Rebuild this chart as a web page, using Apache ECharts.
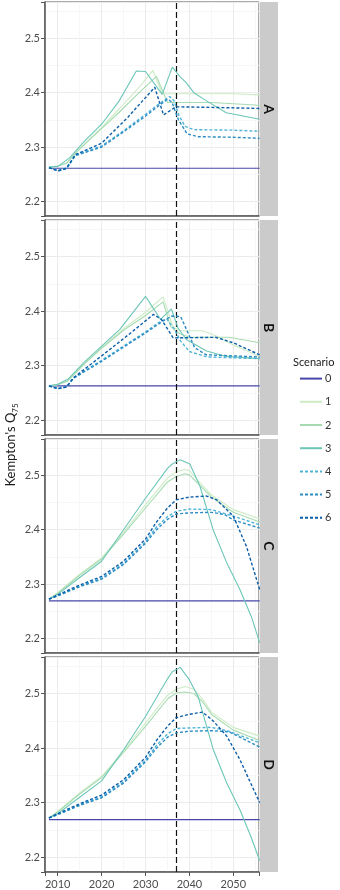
<!DOCTYPE html>
<html>
<head>
<meta charset="utf-8">
<script src="https://cdn.jsdelivr.net/npm/echarts@6/dist/echarts.min.js"></script>
<style>
    html, body { margin: 0; padding: 0; background: #ffffff; }
    #chart { width: 340px; height: 890px; }
</style>
</head>
<body>
<div id="chart"></div>
<script>
// facets and scenarios
var panels = ['A', 'B', 'C', 'D'];
var scenarios = ['0', '1', '2', '3', '4', '5', '6'];
var xTicks = [2010, 2020, 2030, 2040, 2050];
var yTicks = [2.2, 2.3, 2.4, 2.5];
var cutYear = 2037;

// panel A  [year, Q75]
var a0 = [[2008, 2.261], [2056, 2.261]];
var a1 = [[2008, 2.263], [2010, 2.265], [2012, 2.27], [2013.5, 2.284], [2016, 2.305], [2020, 2.336], [2024, 2.37], [2028, 2.405], [2031.7, 2.441], [2033.8, 2.398], [2040, 2.398], [2050, 2.398], [2056, 2.396]];
var a2 = [[2008, 2.263], [2010, 2.265], [2012, 2.27], [2013.5, 2.284], [2016, 2.304], [2020, 2.334], [2024, 2.364], [2028, 2.396], [2032.5, 2.43], [2035, 2.382], [2045, 2.382], [2056, 2.377]];
var a3 = [[2008, 2.263], [2010, 2.264], [2012.8, 2.281], [2016, 2.31], [2020, 2.342], [2024, 2.385], [2027.9, 2.44], [2030, 2.439], [2033.8, 2.397], [2036.1, 2.447], [2037.8, 2.43], [2039.3, 2.418], [2041, 2.4], [2043.9, 2.385], [2048.4, 2.363], [2056, 2.351]];
var a4 = [[2008, 2.262], [2010, 2.257], [2012, 2.261], [2014, 2.285], [2020, 2.302], [2025, 2.33], [2030, 2.36], [2033, 2.379], [2035.5, 2.393], [2036.5, 2.385], [2037.5, 2.36], [2039, 2.338], [2041, 2.332], [2050, 2.331], [2056, 2.329]];
var a5 = [[2008, 2.262], [2010, 2.256], [2012, 2.26], [2014, 2.284], [2020, 2.3], [2025, 2.328], [2030, 2.357], [2033, 2.376], [2035, 2.388], [2036, 2.383], [2037.5, 2.35], [2039.5, 2.324], [2042, 2.319], [2050, 2.318], [2056, 2.316]];
var a6 = [[2008, 2.262], [2010, 2.256], [2012, 2.261], [2014, 2.286], [2020, 2.307], [2026, 2.355], [2032.1, 2.41], [2034.1, 2.359], [2036.9, 2.374], [2045, 2.373], [2056, 2.371]];

// panel B
var b0 = [[2008, 2.263], [2056, 2.263]];
var b1 = [[2008, 2.263], [2010, 2.265], [2012.3, 2.272], [2016, 2.303], [2020, 2.333], [2025, 2.368], [2030, 2.398], [2034, 2.426], [2036.3, 2.37], [2038, 2.364], [2043, 2.364], [2046, 2.355], [2050, 2.338], [2056, 2.317]];
var b2 = [[2008, 2.263], [2010, 2.265], [2012.3, 2.272], [2016, 2.303], [2020, 2.332], [2025, 2.365], [2030, 2.392], [2034, 2.417], [2035.7, 2.372], [2037.5, 2.36], [2040, 2.352], [2049, 2.352], [2056, 2.342]];
var b3 = [[2008, 2.263], [2010, 2.266], [2012.3, 2.275], [2016, 2.306], [2020, 2.336], [2024.1, 2.366], [2030, 2.427], [2033.4, 2.385], [2035.9, 2.404], [2037.4, 2.369], [2039.3, 2.348], [2043.9, 2.327], [2048.4, 2.317], [2056, 2.313]];
var b4 = [[2008, 2.263], [2010, 2.258], [2012, 2.261], [2013.6, 2.278], [2020, 2.31], [2025, 2.336], [2030, 2.362], [2033, 2.379], [2034.8, 2.386], [2036.5, 2.368], [2038, 2.345], [2040, 2.326], [2044, 2.316], [2056, 2.313]];
var b5 = [[2008, 2.263], [2010, 2.258], [2012, 2.261], [2013.6, 2.277], [2020, 2.308], [2025, 2.334], [2030, 2.36], [2034, 2.382], [2036, 2.391], [2038, 2.39], [2041.2, 2.333], [2043.8, 2.32], [2056, 2.316]];
var b6 = [[2008, 2.263], [2010, 2.258], [2012, 2.261], [2013.6, 2.278], [2020, 2.318], [2026, 2.356], [2031.8, 2.394], [2033.6, 2.385], [2036.3, 2.351], [2046, 2.352], [2050, 2.342], [2056, 2.32]];

// panel C
var c0 = [[2008, 2.269], [2056, 2.269]];
var c1 = [[2008, 2.272], [2010, 2.284], [2015, 2.318], [2020, 2.348], [2025, 2.395], [2030, 2.446], [2035, 2.495], [2037, 2.507], [2039, 2.511], [2040, 2.509], [2042, 2.49], [2045, 2.464], [2050, 2.437], [2056, 2.42]];
var c2 = [[2008, 2.272], [2010, 2.283], [2015, 2.316], [2020, 2.346], [2025, 2.392], [2030, 2.44], [2035, 2.488], [2037, 2.498], [2039, 2.503], [2040, 2.501], [2042, 2.485], [2045, 2.46], [2050, 2.432], [2056, 2.414]];
var c3 = [[2008, 2.272], [2010, 2.281], [2015, 2.312], [2020, 2.342], [2025, 2.4], [2030, 2.458], [2035, 2.513], [2036.1, 2.521], [2037.9, 2.529], [2040.1, 2.521], [2042.4, 2.48], [2045.4, 2.4], [2048.5, 2.339], [2051.5, 2.29], [2054.2, 2.238], [2056, 2.192]];
var c4 = [[2008, 2.272], [2010, 2.279], [2015, 2.296], [2020, 2.311], [2025, 2.338], [2030, 2.378], [2032.5, 2.405], [2035, 2.424], [2037, 2.434], [2040, 2.438], [2045, 2.437], [2050, 2.425], [2056, 2.409]];
var c5 = [[2008, 2.272], [2010, 2.278], [2015, 2.295], [2020, 2.309], [2025, 2.336], [2030, 2.375], [2032.5, 2.4], [2035, 2.419], [2037, 2.429], [2040, 2.431], [2045, 2.432], [2048, 2.428], [2050, 2.418], [2056, 2.403]];
var c6 = [[2008, 2.272], [2010, 2.28], [2015, 2.298], [2020, 2.314], [2025, 2.342], [2030, 2.383], [2032.5, 2.414], [2035, 2.44], [2037, 2.455], [2040, 2.46], [2043.9, 2.462], [2046.2, 2.455], [2050, 2.425], [2053, 2.369], [2056, 2.29]];

// panel D
var d0 = [[2008, 2.269], [2056, 2.269]];
var d1 = [[2008, 2.272], [2010, 2.284], [2015, 2.318], [2020, 2.348], [2025, 2.395], [2030, 2.446], [2035, 2.497], [2037, 2.508], [2039, 2.513], [2041, 2.508], [2043, 2.49], [2045, 2.466], [2050, 2.438], [2056, 2.422]];
var d2 = [[2008, 2.272], [2010, 2.283], [2015, 2.316], [2020, 2.346], [2025, 2.392], [2030, 2.44], [2035, 2.49], [2037, 2.501], [2039, 2.503], [2041, 2.5], [2043, 2.485], [2045, 2.462], [2050, 2.433], [2056, 2.414]];
var d3 = [[2008, 2.272], [2010, 2.28], [2015, 2.31], [2020, 2.34], [2025, 2.397], [2030, 2.458], [2035, 2.527], [2036.1, 2.54], [2037.9, 2.548], [2040, 2.525], [2042, 2.494], [2045.4, 2.398], [2048.5, 2.336], [2051.5, 2.287], [2054, 2.238], [2056, 2.194]];
var d4 = [[2008, 2.272], [2010, 2.279], [2015, 2.296], [2020, 2.311], [2025, 2.338], [2030, 2.378], [2032.5, 2.405], [2035, 2.426], [2037, 2.436], [2040, 2.437], [2045, 2.438], [2049, 2.431], [2056, 2.41]];
var d5 = [[2008, 2.272], [2010, 2.278], [2015, 2.295], [2020, 2.309], [2025, 2.336], [2030, 2.375], [2032.5, 2.4], [2035, 2.42], [2037, 2.428], [2040, 2.431], [2045, 2.432], [2049, 2.43], [2056, 2.402]];
var d6 = [[2008, 2.272], [2010, 2.28], [2015, 2.298], [2020, 2.314], [2025, 2.342], [2030, 2.383], [2032.5, 2.414], [2035, 2.44], [2037, 2.456], [2040, 2.462], [2043, 2.466], [2045.4, 2.45], [2048.5, 2.422], [2051.5, 2.379], [2056, 2.3]];

var panelData = [
    [a0, a1, a2, a3, a4, a5, a6],
    [b0, b1, b2, b3, b4, b5, b6],
    [c0, c1, c2, c3, c4, c5, c6],
    [d0, d1, d2, d3, d4, d5, d6]
];

var colors = ['#4646aa', '#cdebc4', '#a6dbb2', '#6cc6b8', '#4fb4d6', '#2b8cc4', '#0b5ea8'];
var dash = [3, 2];
var font = 'Lato';

// layout of the facet panels
var gridLeft = 45, gridWidth = 214;
var gridTops = [2, 220, 439, 657];
var gridHeights = [214, 215, 214, 215];

var chart = echarts.init(document.getElementById('chart'), null, {renderer: 'canvas'});

function isTick(list, v) {
    for (var i = 0; i < list.length; i++) {
        if (Math.abs(list[i] - v) < 1e-6) return true;
    }
    return false;
}

var grids = [], xAxes = [], yAxes = [], series = [], graphics = [];

panels.forEach(function(p, i) {
    var last = i === panels.length - 1;
    grids.push({
        left: gridLeft, top: gridTops[i], width: gridWidth, height: gridHeights[i],
        show: true, borderColor: '#555555', borderWidth: 1, backgroundColor: '#ffffff'
    });
    xAxes.push({
        type: 'value', gridIndex: i, min: 2007.1, max: 2055.85, splitNumber: 5,
        axisLine: {show: true, onZero: false, lineStyle: {color: '#555555', width: 1.5}},
        axisTick: {show: last, length: 4, lineStyle: {color: '#555555'}},
        axisLabel: {
            show: last, margin: 7, color: '#4d4d4d', fontSize: 11, fontFamily: font,
            formatter: function(v) { return isTick(xTicks, v) ? String(v) : ''; }
        },
        splitLine: {show: true, lineStyle: {color: '#ebebeb', width: 1}},
        minorTick: {show: false, splitNumber: 2},
        minorSplitLine: {show: true, lineStyle: {color: '#f5f5f5', width: 0.8}}
    });
    yAxes.push({
        type: 'value', gridIndex: i, min: 2.173, max: 2.567, splitNumber: 5,
        axisLine: {show: true, onZero: false, lineStyle: {color: '#555555', width: 1.5}},
        axisTick: {show: true, length: 4, lineStyle: {color: '#555555'}},
        axisLabel: {
            margin: 5, color: '#4d4d4d', fontSize: 11, fontFamily: font,
            formatter: function(v) { return isTick(yTicks, v) ? v.toFixed(1) : ''; }
        },
        splitLine: {show: true, lineStyle: {color: '#ebebeb', width: 1}},
        minorTick: {show: false, splitNumber: 2},
        minorSplitLine: {show: true, lineStyle: {color: '#f5f5f5', width: 0.8}}
    });

    scenarios.forEach(function(s, k) {
        var item = {
            type: 'line', name: s, xAxisIndex: i, yAxisIndex: i,
            data: panelData[i][k], symbol: 'none', showSymbol: false, silent: true,
            lineStyle: {color: colors[k], width: k >= 4 ? 1.4 : 1.1, type: k >= 4 ? dash : 'solid'},
            itemStyle: {color: colors[k]},
            z: 2 + k
        };
        if (k === 0) {
            item.markLine = {
                silent: true, symbol: ['none', 'none'], label: {show: false},
                lineStyle: {color: '#111111', type: [6, 3], width: 1.2},
                data: [{xAxis: cutYear}]
            };
        }
        series.push(item);
    });

    // facet strip on the right
    graphics.push({
        type: 'rect', shape: {x: gridLeft + gridWidth, y: gridTops[i], width: 19, height: gridHeights[i]},
        style: {fill: '#cbcbcb'}, silent: true
    });
    graphics.push({
        type: 'text', x: gridLeft + gridWidth + 9.5, y: gridTops[i] + gridHeights[i] / 2,
        rotation: -Math.PI / 2, silent: true,
        style: {text: p, fill: '#111111', font: 'bold 14px ' + font, align: 'center', verticalAlign: 'middle'}
    });
});

// y axis title with subscript
graphics.push({
    type: 'text', x: 11, y: 445, rotation: Math.PI / 2, silent: true,
    style: {
        text: "{n|Kempton's Q}{s|75}", align: 'center', verticalAlign: 'middle',
        rich: {
            n: {fontSize: 13, fontFamily: font, fill: '#1a1a1a', lineHeight: 16},
            s: {fontSize: 8, fontFamily: font, fill: '#1a1a1a', verticalAlign: 'bottom', lineHeight: 16, padding: [6, 0, 0, 0]}
        }
    }
});
// legend title
graphics.push({
    type: 'text', x: 293, y: 362, silent: true,
    style: {text: 'Scenario', fill: '#1a1a1a', font: '11px ' + font, align: 'left', verticalAlign: 'middle'}
});

var option = {
    animation: false,
    backgroundColor: '#ffffff',
    grid: grids,
    xAxis: xAxes,
    yAxis: yAxes,
    legend: {
        data: scenarios, orient: 'vertical', left: 294, top: 368,
        itemWidth: 22, itemHeight: 14, itemGap: 12, selectedMode: false,
        itemStyle: {opacity: 0},
        textStyle: {color: '#333333', fontSize: 11, fontFamily: font, padding: [0, 0, 0, -2]}
    },
    graphic: graphics,
    series: series
};
chart.setOption(option);
</script>
</body>
</html>
